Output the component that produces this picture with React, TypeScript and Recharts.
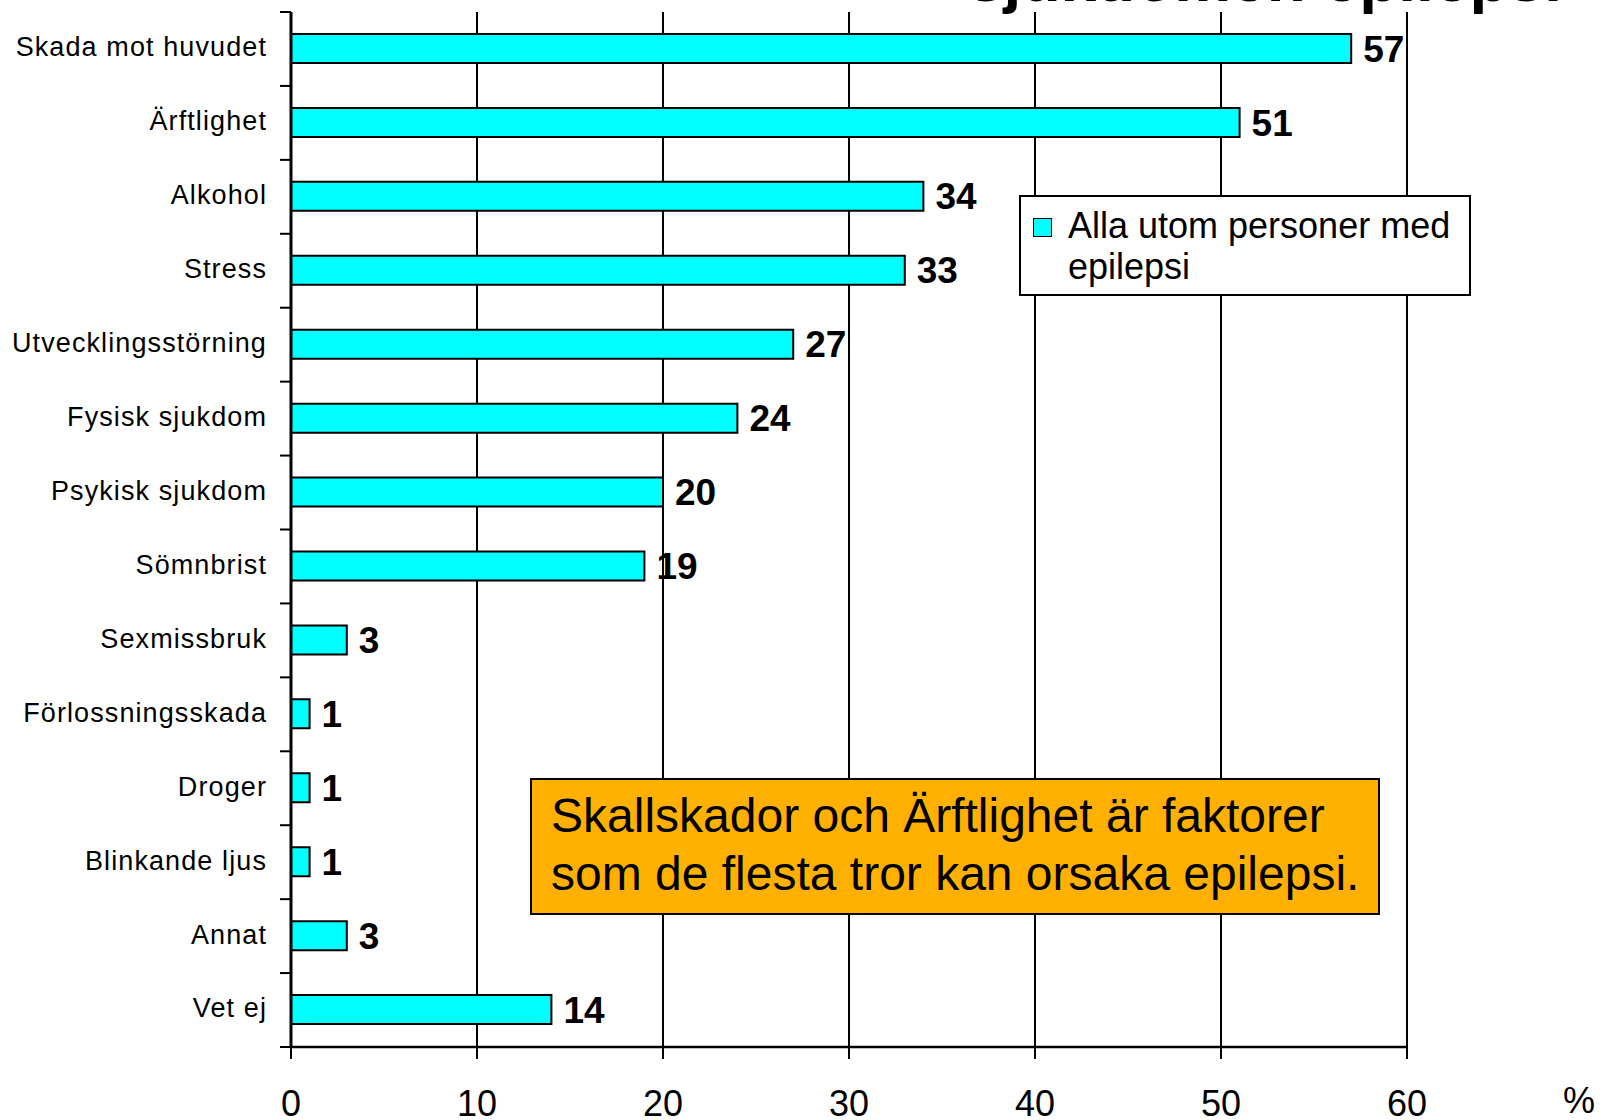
import { BarChart, Bar, XAxis, YAxis, CartesianGrid, LabelList, Legend } from 'recharts';

const causes = [
  'Skada mot huvudet',
  'Ärftlighet',
  'Alkohol',
  'Stress',
  'Utvecklingsstörning',
  'Fysisk sjukdom',
  'Psykisk sjukdom',
  'Sömnbrist',
  'Sexmissbruk',
  'Förlossningsskada',
  'Droger',
  'Blinkande ljus',
  'Annat',
  'Vet ej',
];
const shares = [57, 51, 34, 33, 27, 24, 20, 19, 3, 1, 1, 1, 3, 14];
const xTicks = [0, 10, 20, 30, 40, 50, 60];
const seriesName = 'Alla utom personer med epilepsi';
const titleText = 'sjukdomen epilepsi';
const noteLines = ['Skallskador och Ärftlighet är faktorer', 'som de flesta tror kan orsaka epilepsi.'];
const unitText = '%';

const data = causes.map((name, i) => ({ name, share: shares[i] }));

const W = 1606;
const H = 1120;
const xAxisHeight = 73;
const margin = { top: 12, right: 199, bottom: 0, left: 0 };
const yAxisWidth = 291;
const band = (H - margin.top - margin.bottom - xAxisHeight) / causes.length;
const font = '"Liberation Sans", Arial, Helvetica, sans-serif';
const cyan = '#00ffff';

function CauseTick(props: any) {
  const { x, y, payload, index } = props;
  const last = index === causes.length - 1;
  return (
    <g>
      <line x1={x - 11} x2={x} y1={y - band / 2} y2={y - band / 2} stroke="#000" strokeWidth={2} />
      {last && <line x1={x - 11} x2={x} y1={y + band / 2} y2={y + band / 2} stroke="#000" strokeWidth={2} />}
      <text
        x={x - 24}
        y={y - 2}
        dy="0.35em"
        textAnchor="end"
        fontSize={27}
        letterSpacing={1.1}
        fontFamily={font}
        fill="#000"
      >
        {payload.value}
      </text>
    </g>
  );
}

function LegendBox() {
  return (
    <div
      style={{
        boxSizing: 'border-box',
        width: 452,
        height: 101,
        border: '2px solid #000',
        background: '#fff',
        display: 'flex',
        alignItems: 'flex-start',
        padding: '8px 10px 0 12px',
        fontFamily: font,
      }}
    >
      <div
        style={{
          boxSizing: 'border-box',
          width: 19,
          height: 19,
          marginTop: 13,
          background: cyan,
          border: '1.5px solid #000',
          flexShrink: 0,
        }}
      />
      <div style={{ marginLeft: 16, fontSize: 36, lineHeight: '41px', color: '#000', width: 400 }}>
        {seriesName.split(' med ')[0]} med
        <br />
        {seriesName.split(' med ')[1]}
      </div>
    </div>
  );
}

export default function App() {
  return (
    <div
      style={{
        position: 'absolute',
        left: 0,
        top: 0,
        width: W,
        height: H,
        overflow: 'hidden',
        background: '#fff',
        fontFamily: font,
      }}
    >
      <BarChart width={W} height={H} data={data} layout="vertical" margin={margin}>
        <CartesianGrid horizontal={false} stroke="#000" strokeWidth={2} />
        <XAxis
          type="number"
          domain={[0, 60]}
          ticks={xTicks}
          interval={0}
          tickSize={12}
          tickMargin={31}
          axisLine={{ stroke: '#000', strokeWidth: 2.5 }}
          tickLine={{ stroke: '#000', strokeWidth: 2 }}
          tick={{ fontSize: 36, fill: '#000', fontFamily: font }}
          height={xAxisHeight}
        />
        <XAxis
          xAxisId="top"
          orientation="top"
          type="number"
          domain={[0, 60]}
          height={0}
          tick={false}
          tickLine={false}
          axisLine={{ stroke: '#000', strokeWidth: 2 }}
        />
        <YAxis
          type="category"
          dataKey="name"
          width={yAxisWidth}
          interval={0}
          tickSize={0}
          tickMargin={0}
          tickLine={false}
          axisLine={{ stroke: '#000', strokeWidth: 3 }}
          tick={<CauseTick />}
        />
        <Legend
          layout="horizontal"
          verticalAlign="middle"
          align="center"
          wrapperStyle={{ position: 'absolute', left: 1019, top: 195, width: 452, height: 101 }}
          content={() => <LegendBox />}
        />
        <Bar
          dataKey="share"
          name={seriesName}
          barSize={29}
          fill={cyan}
          stroke="#000"
          strokeWidth={2}
          isAnimationActive={false}
        >
          <LabelList
            dataKey="share"
            position="right"
            offset={12}
            style={{ fontSize: 37, fontWeight: 700, fill: '#000', fontFamily: font }}
          />
        </Bar>
      </BarChart>

      <div
        style={{
          position: 'absolute',
          left: 968,
          top: -53,
          fontSize: 64,
          lineHeight: '64px',
          fontWeight: 700,
          color: '#000',
          whiteSpace: 'nowrap',
        }}
      >
        {titleText}
      </div>

      <div
        style={{
          position: 'absolute',
          left: 530,
          top: 778,
          width: 850,
          height: 137,
          boxSizing: 'border-box',
          background: '#ffb000',
          border: '2px solid #000',
          padding: '7px 0 0 19px',
          fontSize: 48,
          lineHeight: '58px',
          color: '#000',
          whiteSpace: 'nowrap',
        }}
      >
        {noteLines[0]}
        <br />
        {noteLines[1]}
      </div>

      <div
        style={{
          position: 'absolute',
          left: 1563,
          top: 1083,
          fontSize: 36,
          lineHeight: '36px',
          color: '#000',
        }}
      >
        {unitText}
      </div>
    </div>
  );
}
